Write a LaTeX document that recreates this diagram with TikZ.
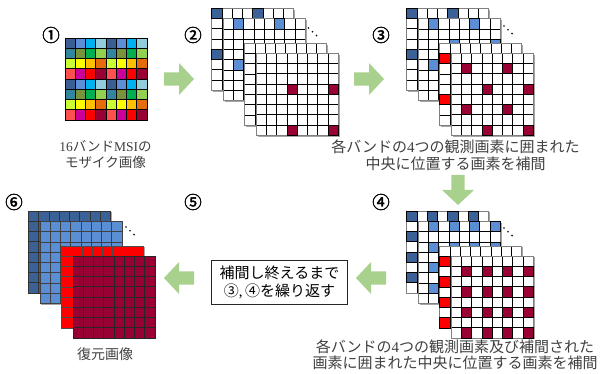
\documentclass[tikz,border=0pt]{standalone}
\usepackage{fontspec}
\setmainfont{Liberation Serif}
\newfontfamily\jp{Noto Sans CJK JP}
\newfontfamily\jpnum[FakeBold=2]{Noto Sans CJK JP}
\usepackage{tikz}
\usetikzlibrary{positioning}

% mosaic colours (row/column of the 4x4 filter)
\definecolor{mos00}{HTML}{3A5F94}
\definecolor{mos01}{HTML}{5B8FD8}
\definecolor{mos02}{HTML}{00B0F0}
\definecolor{mos03}{HTML}{92CDDC}
\definecolor{mos10}{HTML}{31859C}
\definecolor{mos11}{HTML}{77933C}
\definecolor{mos12}{HTML}{00B050}
\definecolor{mos13}{HTML}{92D050}
\definecolor{mos20}{HTML}{CCFF33}
\definecolor{mos21}{HTML}{FFFF00}
\definecolor{mos22}{HTML}{FFC000}
\definecolor{mos23}{HTML}{E46C0A}
\definecolor{mos30}{HTML}{FF5050}
\definecolor{mos31}{HTML}{CC0099}
\definecolor{mos32}{HTML}{FF0000}
\definecolor{mos33}{HTML}{990033}
\definecolor{bandA}{HTML}{3A6296}
\definecolor{bandB}{HTML}{5A8FD6}
\definecolor{bandC}{HTML}{FF0000}
\definecolor{bandD}{HTML}{990033}
\definecolor{arrowgreen}{HTML}{A9D18E}
\definecolor{labelgray}{HTML}{404040}

\newcommand{\cellsz}{10.25}

% empty band: shadow + white cells
\newcommand{\bandlayer}[2]{%
  \fill[black!35] (#1+1.3,#2+1.3) rectangle ++(82,82);
  \foreach \r in {0,...,7}{
    \foreach \c in {0,...,7}{
      \draw[cell] (#1+\c*\cellsz,#2+\r*\cellsz) rectangle ++(\cellsz,\cellsz);
    }
  }
  \draw[gray, line width=0.8pt] (#1,#2) rectangle ++(82,82);
}
% coloured pixels of a band
\newcommand{\bandmarks}[5]{%
  \foreach \r in {#4}{
    \foreach \c in {#5}{
      \draw[cell, fill=#3] (#1+\c*\cellsz,#2+\r*\cellsz) rectangle ++(\cellsz,\cellsz);
    }
  }
}
% fully restored band
\newcommand{\fullband}[4]{%
  \fill[black!35] (#1+1.3,#2+1.3) rectangle ++(82,82);
  \foreach \r in {0,...,7}{
    \foreach \c in {0,...,7}{
      \draw[cell, fill=#3, draw=#4] (#1+\c*\cellsz,#2+\r*\cellsz) rectangle ++(\cellsz,\cellsz);
    }
  }
}
% ellipsis dots
\newcommand{\moredots}[2]{%
  \foreach \k in {0,1,2}
    \fill (#1+\k*4,#2+\k*3.8) circle (0.9);
}
% green block arrow
\newcommand{\garrow}[3]{%
  \fill[arrowgreen, shift={(#1,#2)}, rotate=#3]
    (-15,-6.7) -- (0,-6.7) -- (0,-16) -- (15,0) -- (0,16) -- (0,6.7) -- (-15,6.7) -- cycle;
}

\tikzset{
  cell/.style={draw=black, fill=white, line width=0.6pt},
  num/.style={font=\jpnum\fontsize{17.5}{17.5}\selectfont, inner sep=0pt},
  label/.style={align=center, text=labelgray, inner sep=0pt,
    font=\fontsize{15}{16.5}\selectfont},
  repeatbox/.style={draw=black!85, line width=0.9pt, fill=white, align=center,
    minimum width=135.6, minimum height=43.3, inner sep=0pt,
    font=\fontsize{15}{18}\selectfont}
}

\begin{document}
\begin{tikzpicture}[x=1pt, y=-1pt]
\useasboundingbox (0,0) rectangle (602,374);

% numbers
\node[num] (num1) at (51,35) {①};
\node[num] (num2) at (193,35) {②};
\node[num] (num3) at (381,35) {③};
\node[num] (num4) at (381,202) {④};
\node[num] (num5) at (193,202) {⑤};
\node[num] (num6) at (14,202) {⑥};

% (1) mosaic image
\foreach \r in {0,...,7}{
  \foreach \c in {0,...,7}{
    \pgfmathtruncatemacro{\mr}{mod(\r,4)}
    \pgfmathtruncatemacro{\mc}{mod(\c,4)}
    \draw[cell, fill=mos\mr\mc] (65+\c*\cellsz,38+\r*\cellsz) rectangle ++(\cellsz,\cellsz);
  }
}
\node[label, font=\fontsize{13.5}{16}\selectfont] (lbl1) at (105.5,155)
  {16{\jp バンド}MSI{\jp の}\\{\jp モザイク画像}};

% (2) bands split
\bandlayer{211.7}{8.3}
\bandmarks{211.7}{8.3}{bandA}{0,4}{0,4}
\bandlayer{223.2}{18.8}
\bandmarks{223.2}{18.8}{bandB}{0,4}{1,5}
\moredots{308.5}{28}
\bandlayer{244.7}{43.3}
\bandmarks{244.7}{43.3}{bandC}{3,7}{2,6}
\bandlayer{256.2}{53.3}
\bandmarks{256.2}{53.3}{bandD}{3,7}{3,7}

% (3) first interpolation
\bandlayer{406.7}{8.3}
\bandmarks{406.7}{8.3}{bandA}{0,4}{0,4}
\bandmarks{406.7}{8.3}{bandA}{2,6}{2,6}
\bandlayer{418.2}{18.8}
\bandmarks{418.2}{18.8}{bandB}{0,4}{1,5}
\bandmarks{418.2}{18.8}{bandB}{2,6}{3,7}
\moredots{504}{26}
\bandlayer{439.7}{43.3}
\bandmarks{439.7}{43.3}{bandC}{3,7}{2,6}
\bandmarks{439.7}{43.3}{bandC}{1,5}{0,4}
\bandlayer{451.2}{53.3}
\bandmarks{451.2}{53.3}{bandD}{3,7}{3,7}
\bandmarks{451.2}{53.3}{bandD}{1,5}{1,5}
\node[label] (lbl3) at (455.5,155)
  {{\jp 各バンドの}4{\jp つの観測画素に囲まれた}\\{\jp 中央に位置する画素を補間}};

% (4) second interpolation
\bandlayer{406.7}{211}
\bandmarks{406.7}{211}{bandA}{0,2,4,6}{0,2,4,6}
\bandlayer{418.2}{221.5}
\bandmarks{418.2}{221.5}{bandB}{0,2,4,6}{1,3,5,7}
\moredots{504}{228}
\bandlayer{439.7}{246}
\bandmarks{439.7}{246}{bandC}{1,3,5,7}{0,2,4,6}
\bandlayer{451.2}{256}
\bandmarks{451.2}{256}{bandD}{1,3,5,7}{1,3,5,7}
\node[label] (lbl4) at (455,355)
  {{\jp 各バンドの}4{\jp つの観測画素及び補間された}\\{\jp 画素に囲まれた中央に位置する画素を補間}};

% (5) repeat
\node[repeatbox] (repeat) at (279.5,282.3)
  {{\jp 補間し終えるまで}\\{\jp ③},\,{\jp ④を繰り返す}};

% (6) restored image
\fullband{28.3}{211}{bandA}{black!80}
\fullband{39.8}{221.5}{bandB}{black!75}
\moredots{126}{227}
\fullband{61.3}{246}{bandC}{black!70}
\fullband{72.8}{256}{bandD}{black!85}
\node[label, font=\fontsize{14}{16}\selectfont] (lbl6) at (105,354) {{\jp 復元画像}};

% arrows
\garrow{179}{79}{0}
\garrow{369}{79}{0}
\garrow{458}{190}{-90}
\garrow{371}{278}{180}
\garrow{179}{278}{180}
\end{tikzpicture}
\end{document}
